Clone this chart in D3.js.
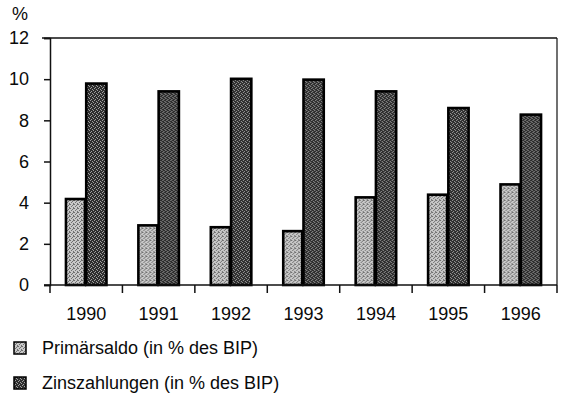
<!DOCTYPE html>
<html><head><meta charset="utf-8">
<script src="https://cdn.jsdelivr.net/npm/d3@7"></script>
<style>body{margin:0;background:#fff}text{font-family:"Liberation Sans",Arial,sans-serif;fill:#0a0a0a}</style>
</head><body><svg id="c" width="565" height="403"></svg>
<script>
const years = ["1990","1991","1992","1993","1994","1995","1996"];
const primaersaldo = [4.24, 2.96, 2.87, 2.68, 4.32, 4.45, 4.95];
const zinszahlungen = [9.85, 9.47, 10.08, 10.04, 9.47, 8.66, 8.34];
const seriesNames = ["Primärsaldo (in % des BIP)", "Zinszahlungen (in % des BIP)"];
const yTicks = [0, 2, 4, 6, 8, 10, 12];

const svg = d3.select("#c");
const defs = svg.append("defs");
function pat(id, base, dot, cells){
  const p = defs.append("pattern").attr("id", id).attr("width", 4).attr("height", 4).attr("patternUnits", "userSpaceOnUse");
  p.append("rect").attr("width", 4).attr("height", 4).attr("fill", base);
  cells.forEach(c => p.append("rect").attr("x", c[0]).attr("y", c[1]).attr("width", 1).attr("height", 1).attr("fill", dot));
}
pat("pLight", "#c8c8c8", "#707070", [[0,0],[2,1],[1,2],[3,3],[3,0]]);
pat("pDark", "#2e2e2e", "#a0a0a0", [[0,0],[2,1],[1,3],[3,2]]);
const fills = ["url(#pLight)", "url(#pDark)"];

const L = 50, R = 557, T = 38, B = 285;
const x = d3.scaleBand().domain(years).range([L, R]).padding(0);
const bw = x.bandwidth();
const xi = d3.scaleBand().domain([0, 1]).range([0, bw]).paddingInner(0).paddingOuter(0.68);
const y = d3.scaleLinear().domain([0, 12]).range([B, T]);

// frame
svg.append("line").attr("x1", L - 8).attr("x2", R).attr("y1", T).attr("y2", T).attr("stroke", "#111").attr("stroke-width", 1.5);
svg.append("line").attr("x1", R).attr("x2", R).attr("y1", T).attr("y2", B).attr("stroke", "#111").attr("stroke-width", 1.2);

// y axis
const ya = svg.append("g").attr("transform", `translate(${L},0)`)
  .call(d3.axisLeft(y).tickValues(yTicks).tickSize(6).tickPadding(15).tickFormat(d3.format("d")));
ya.select(".domain").attr("stroke", "#111").attr("stroke-width", 1.5);
ya.selectAll(".tick line").attr("stroke", "#111").attr("stroke-width", 1.5);
ya.selectAll("text").style("font-size", "18px").attr("fill", "#0a0a0a");
svg.append("text").attr("x", 12).attr("y", 20).style("font-size", "18px").text("%");

// bars
const data = years.map((yr, i) => ({yr, v: [primaersaldo[i], zinszahlungen[i]]}));
const g = svg.append("g").selectAll("g").data(data).join("g").attr("transform", d => `translate(${x(d.yr)},0)`);
const sw = 2.6;
g.selectAll("rect").data(d => d.v.map((v, k) => ({v, k}))).join("rect")
  .attr("x", d => xi(d.k) + sw / 2 - (d.k === 1 ? sw / 2 : 0))
  .attr("width", d => xi.bandwidth() - sw + (d.k === 1 ? sw / 2 : 0))
  .attr("y", d => y(d.v) + sw / 2).attr("height", d => y(0) - y(d.v) - sw / 2)
  .attr("fill", d => fills[d.k]).attr("stroke", "#000").attr("stroke-width", sw);

// x axis
const xa = svg.append("g").attr("transform", `translate(0,${B})`);
xa.append("line").attr("x1", L - 6).attr("x2", R).attr("stroke", "#111").attr("stroke-width", 1.5);
const edges = years.map(d => x(d)).concat([R]);
xa.selectAll("line.t").data(edges).join("line").attr("class", "t")
  .attr("x1", d => d).attr("x2", d => d).attr("y1", 0).attr("y2", 8).attr("stroke", "#111").attr("stroke-width", 1.5);
xa.selectAll("text").data(years).join("text")
  .attr("x", d => x(d) + bw / 2).attr("y", 35).attr("text-anchor", "middle")
  .style("font-size", "18px").text(d => d);

// legend
const lg = svg.append("g").selectAll("g").data(seriesNames).join("g")
  .attr("transform", (d, i) => `translate(14,${342 + i * 35})`);
lg.append("rect").attr("width", 12).attr("height", 12).attr("fill", (d, i) => fills[i]).attr("stroke", "#000").attr("stroke-width", 1.5);
lg.append("text").attr("x", 28).attr("y", 12).style("font-size", "18px").text(d => d);
</script></body></html>
